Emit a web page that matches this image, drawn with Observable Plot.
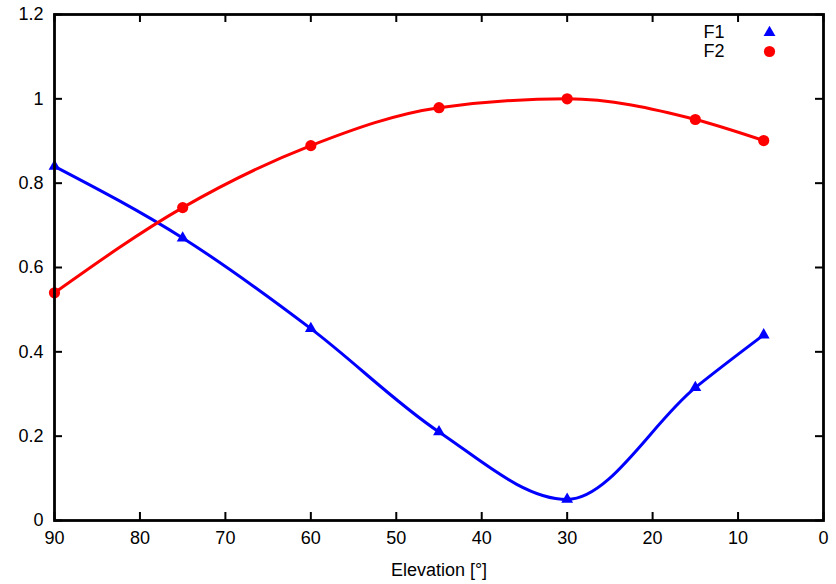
<!DOCTYPE html>
<html><head><meta charset="utf-8">
<script src="https://cdn.jsdelivr.net/npm/d3@7"></script>
<script src="https://cdn.jsdelivr.net/npm/@observablehq/plot@0.6"></script>
<style>
body{margin:0;background:#fff;}
#chart svg{font-family:"Liberation Sans",Arial,sans-serif;}
</style>
</head><body><div id="chart"></div>
<script>
const elevation = [90, 75, 60, 45, 30, 15, 7];
const f1 = [0.84, 0.67, 0.455, 0.21, 0.05, 0.315, 0.44];
const f2 = [0.54, 0.742, 0.889, 0.979, 1.0, 0.951, 0.901];
const seriesNames = ["F1", "F2"];
const seriesColors = ["#0000ff", "#ff0000"];
const seriesSymbols = ["triangle", "circle"];
const xTicks = [90, 80, 70, 60, 50, 40, 30, 20, 10, 0];
const yTicks = [0, 0.2, 0.4, 0.6, 0.8, 1, 1.2];
const xLabel = "Elevation [°]";

const W = 836, H = 584, ML = 54, MR = 13, MT = 14, MB = 64, TICK = 8;
const innerW = W - ML - MR, innerH = H - MT - MB;
const FS = 18;

const seriesValues = [f1, f2];
const rows = seriesNames.flatMap((name, s) =>
  elevation.map((e, i) => ({series: name, x: e, y: seriesValues[s][i]})));

const marks = [];
seriesNames.forEach((name, s) => {
  const d = rows.filter(r => r.series === name);
  marks.push(Plot.line(d, {x: "x", y: "y", stroke: seriesColors[s], strokeWidth: 3, curve: "monotone-x"}));
  marks.push(Plot.dot(d, {x: "x", y: "y", fill: seriesColors[s], symbol: seriesSymbols[s], r: s === 0 ? 4.4 : 5.6}));
  // legend
  marks.push(Plot.text([name], {text: d => d, frameAnchor: "top-right", dx: -99, dy: 18 + s * 19, textAnchor: "end", lineAnchor: "middle", fontSize: FS, fill: "#000"}));
  marks.push(Plot.dot([name], {frameAnchor: "top-right", dx: -54, dy: 18 + s * 19, fill: seriesColors[s], symbol: seriesSymbols[s], r: s === 0 ? 4.4 : 5.6}));
});

const chart = Plot.plot({
  width: W,
  height: H,
  marginLeft: ML,
  marginRight: MR,
  marginTop: MT,
  marginBottom: MB,
  style: {fontSize: FS + "px", color: "#000", background: "#fff"},
  x: {domain: [90, 0], ticks: xTicks},
  y: {domain: [0, 1.2], ticks: yTicks},
  marks: [
    ...marks,
    Plot.axisX(xTicks, {anchor: "bottom", tickSize: 0, tickPadding: 11, fontSize: FS, label: xLabel, labelAnchor: "center", labelArrow: "none", labelOffset: 55}),
    Plot.axisY(yTicks, {anchor: "left", tickSize: 0, tickPadding: 11, fontSize: FS, label: null, tickFormat: d => String(d)}),
    // inward ticks on all four sides
    Plot.tickX(xTicks, {x: d => d, stroke: "#000", strokeWidth: 2, insetTop: innerH - TICK}),
    Plot.tickX(xTicks, {x: d => d, stroke: "#000", strokeWidth: 2, insetBottom: innerH - TICK}),
    Plot.tickY(yTicks, {y: d => d, stroke: "#000", strokeWidth: 2, insetRight: innerW - TICK}),
    Plot.tickY(yTicks, {y: d => d, stroke: "#000", strokeWidth: 2, insetLeft: innerW - TICK}),
    Plot.frame({stroke: "#000", strokeWidth: 2.8})
  ]
});
document.getElementById("chart").appendChild(chart);
</script>
</body></html>
